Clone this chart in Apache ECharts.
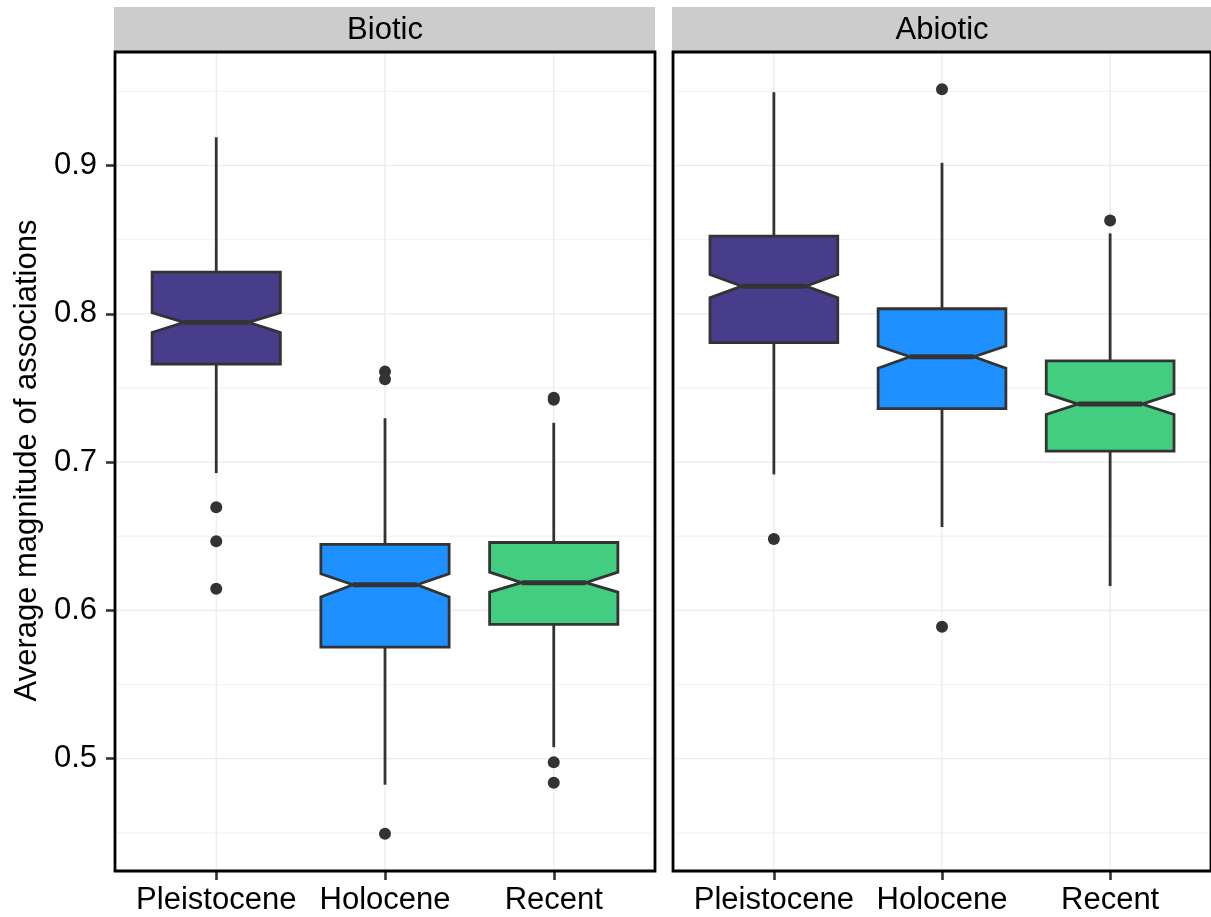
<!DOCTYPE html>
<html><head><meta charset="utf-8">
<script src="https://cdn.jsdelivr.net/npm/echarts@6/dist/echarts.min.js"></script>
<style>html,body{margin:0;padding:0;background:#fff}#main{width:1211px;height:917px}</style>
</head><body><div id="main"></div>
<script>
const facets = ['Biotic', 'Abiotic'];
const categories = ['Pleistocene', 'Holocene', 'Recent'];
// each row: [lower whisker, Q1, notch low, median, notch high, Q3, upper whisker]
const bioticBoxes = [
  [0.6926, 0.7660, 0.7874, 0.7942, 0.8007, 0.8281, 0.9190],
  [0.4825, 0.5752, 0.6090, 0.6173, 0.6247, 0.6445, 0.7296],
  [0.5078, 0.5906, 0.6123, 0.6187, 0.6258, 0.6458, 0.7265]
];
const abioticBoxes = [
  [0.6917, 0.7805, 0.8108, 0.8186, 0.8265, 0.8523, 0.9494],
  [0.6562, 0.7360, 0.7633, 0.7710, 0.7782, 0.8034, 0.9018],
  [0.6164, 0.7074, 0.7321, 0.7391, 0.7461, 0.7683, 0.8542]
];
const bioticOutliers = [
  [0.6696, 0.6467, 0.6146],
  [0.7610, 0.7559, 0.4494],
  [0.7434, 0.7420, 0.4977, 0.4838]
];
const abioticOutliers = [
  [0.6481],
  [0.9514, 0.5890],
  [0.8629]
];
const yTicks = [0.5, 0.6, 0.7, 0.8, 0.9];
const yMinorTicks = [0.45, 0.55, 0.65, 0.75, 0.85, 0.95];
const yLimits = [0.4243, 0.9765];
const yTitle = 'Average magnitude of associations';

// ---- styling / layout ----
const fillColors = ['#483D8B', '#1E90FF', '#43CD80'];
const FONT = "'Liberation Sans', Arial, Helvetica, sans-serif";
const FS = 31;
const panelTop = 52, panelH = 819;
const panelLeft = [115, 673], panelW = [540, 538];
const stripTop = 7;
const boxHalf = 0.38;
const catPos = categories.map((c, i) => i + 1);

const chart = echarts.init(document.getElementById('main'), null, {renderer: 'canvas'});

function renderGridLines(params, api) {
  const cs = params.coordSys;
  const kind = api.value(2);
  if (kind === 2) { // vertical
    const x = api.coord([api.value(0), api.value(1)])[0];
    return {type: 'line', shape: {x1: x, y1: cs.y, x2: x, y2: cs.y + cs.height},
      style: {stroke: '#EBEBEB', lineWidth: 1.3}};
  }
  const y = api.coord([api.value(0), api.value(1)])[1];
  return {type: 'line', shape: {x1: cs.x, y1: y, x2: cs.x + cs.width, y2: y},
    style: {stroke: kind === 0 ? '#EBEBEB' : '#F4F4F4', lineWidth: 1.3}};
}

function renderBox(params, api) {
  const x = api.value(0);
  const lw = api.value(1), q1 = api.value(2), nl = api.value(3), md = api.value(4),
        nh = api.value(5), q3 = api.value(6), uw = api.value(7);
  const P = (dx, v) => api.coord([x + dx, v]);
  const idx = Math.round(x) - 1;
  const pts = [P(-boxHalf, q3), P(boxHalf, q3), P(boxHalf, nh), P(boxHalf / 2, md),
    P(boxHalf, nl), P(boxHalf, q1), P(-boxHalf, q1), P(-boxHalf, nl), P(-boxHalf / 2, md), P(-boxHalf, nh)];
  const top = P(0, q3), wt = P(0, uw), bot = P(0, q1), wb = P(0, lw);
  const ml = P(-boxHalf / 2, md), mr = P(boxHalf / 2, md);
  const ws = {stroke: '#333333', lineWidth: 2.8};
  return {type: 'group', children: [
    {type: 'line', shape: {x1: top[0], y1: top[1], x2: wt[0], y2: wt[1]}, style: ws},
    {type: 'line', shape: {x1: bot[0], y1: bot[1], x2: wb[0], y2: wb[1]}, style: ws},
    {type: 'polygon', shape: {points: pts}, style: {fill: fillColors[idx], stroke: '#333333', lineWidth: 2.8, lineJoin: 'miter'}},
    {type: 'line', shape: {x1: ml[0], y1: ml[1], x2: mr[0], y2: mr[1]}, style: {stroke: '#333333', lineWidth: 5}}
  ]};
}

const boxesByFacet = [bioticBoxes, abioticBoxes];
const outliersByFacet = [bioticOutliers, abioticOutliers];

const grids = [], xAxes = [], yAxes = [], series = [], graphics = [];
facets.forEach((f, k) => {
  grids.push({left: panelLeft[k], top: panelTop, width: panelW[k], height: panelH, containLabel: false});
  xAxes.push({
    type: 'value', gridIndex: k, min: 0.4, max: 3.6,
    axisLine: {show: false},
    axisTick: {show: true, customValues: catPos, length: 9, lineStyle: {color: '#333333', width: 2.6}},
    axisLabel: {show: true, customValues: catPos, formatter: v => categories[Math.round(v) - 1] || '',
      fontSize: FS, fontFamily: FONT, color: '#000', margin: 14},
    splitLine: {show: false}
  });
  yAxes.push({
    type: 'value', gridIndex: k, min: yLimits[0], max: yLimits[1],
    axisLine: {show: false},
    axisTick: {show: k === 0, customValues: yTicks, length: 9, lineStyle: {color: '#333333', width: 2.6}},
    axisLabel: {show: k === 0, customValues: yTicks, formatter: v => v.toFixed(1),
      fontSize: FS, fontFamily: FONT, color: '#000', margin: 18},
    splitLine: {show: false}
  });
  const gl = [];
  yMinorTicks.forEach(v => gl.push([2, v, 1]));
  yTicks.forEach(v => gl.push([2, v, 0]));
  catPos.forEach(p => gl.push([p, 0.7, 2]));
  series.push({type: 'custom', xAxisIndex: k, yAxisIndex: k, z: 1, silent: true,
    renderItem: renderGridLines, encode: {x: 0, y: 1}, data: gl});
  series.push({type: 'custom', xAxisIndex: k, yAxisIndex: k, z: 3, silent: true,
    renderItem: renderBox, encode: {x: 0, y: [1, 2, 3, 4, 5, 6, 7]},
    data: boxesByFacet[k].map((b, i) => [catPos[i]].concat(b))});
  const od = [];
  outliersByFacet[k].forEach((arr, i) => arr.forEach(v => od.push([catPos[i], v])));
  series.push({type: 'scatter', xAxisIndex: k, yAxisIndex: k, z: 4, silent: true,
    symbol: 'circle', symbolSize: 12, itemStyle: {color: '#333333', opacity: 1}, data: od});
  // strip
  graphics.push({type: 'rect', z: 10, shape: {x: panelLeft[k] - 1, y: stripTop, width: panelW[k] + 1, height: panelTop - stripTop},
    style: {fill: '#CCCCCC'}});
  graphics.push({type: 'text', z: 11, x: panelLeft[k] + panelW[k] / 2, y: (stripTop + panelTop) / 2 + 1,
    style: {text: f, fontSize: FS, fontFamily: FONT, fill: '#000', align: 'center', verticalAlign: 'middle'}});
  // border
  graphics.push({type: 'rect', z: 12, shape: {x: panelLeft[k], y: panelTop, width: panelW[k], height: panelH},
    style: {fill: 'none', stroke: '#000', lineWidth: 2.8}});
});
graphics.push({type: 'text', z: 11, x: 27, y: panelTop + panelH / 2 - 1, rotation: Math.PI / 2,
  style: {text: yTitle, fontSize: FS, fontFamily: FONT, fill: '#000', align: 'center', verticalAlign: 'middle'}});

chart.setOption({
  animation: false,
  backgroundColor: '#fff',
  grid: grids, xAxis: xAxes, yAxis: yAxes, series: series, graphic: graphics
});
</script></body></html>
